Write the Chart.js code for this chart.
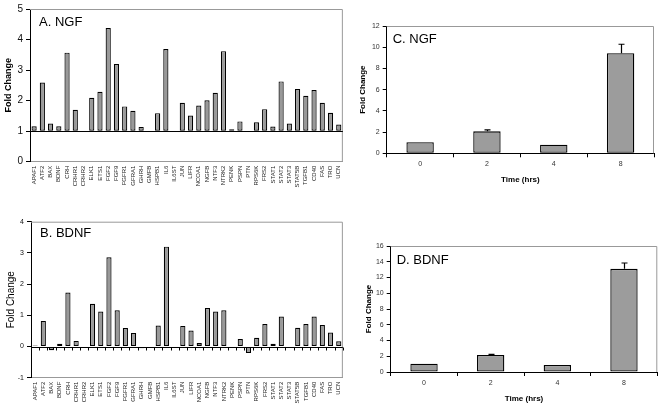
<!DOCTYPE html>
<html>
<head>
<meta charset="utf-8">
<script src="https://cdn.jsdelivr.net/npm/chart.js@4"></script>
<style>
  body { margin: 0; background: #fff; }
  #wrap { position: relative; width: 661px; height: 409px; overflow: hidden; }
  canvas { position: absolute; }
</style>
</head>
<body>
<div id="wrap">
  <canvas id="chartA" style="left:0;top:0" width="350" height="200"></canvas>
  <canvas id="chartB" style="left:0;top:205px" width="350" height="204"></canvas>
  <canvas id="chartC" style="left:355px;top:0" width="306" height="200"></canvas>
  <canvas id="chartD" style="left:355px;top:200px" width="306" height="209"></canvas>
</div>
<script>
  const genes = ['APAF1', 'ATF2', 'BAX', 'BDNF', 'CRH', 'CRHR1', 'CRHR2', 'ELK1', 'ETS1', 'FGF2',
    'FGF9', 'FGFR1', 'GFRA1', 'GHRH', 'GMFB', 'HSPB1', 'IL6', 'IL6ST', 'JUN', 'LIFR',
    'NCOA1', 'NGFB', 'NTF3', 'NTRK2', 'PENK', 'PSPN', 'PTN', 'RPS6K', 'FRS2', 'STAT1',
    'STAT2', 'STAT3', 'STAT5B', 'TGFB1', 'CD40', 'FAS', 'TRO', 'UCN'];

  // A. NGF - fold change, bars drawn from 1
  const ngfFold = [1.16, 2.59, 1.25, 1.16, 3.57, 1.70, 1.0, 2.09, 2.29, 4.38,
    3.20, 1.81, 1.67, 1.14, 1.0, 1.59, 3.69, 1.0, 1.93, 1.51,
    1.84, 2.01, 2.26, 3.62, 1.06, 1.32, 0.97, 1.29, 1.72, 1.15,
    2.63, 1.25, 2.38, 2.16, 2.35, 1.93, 1.60, 1.22];

  // B. BDNF - fold change, bars drawn from 0
  const bdnfFold = [0.03, 0.82, -0.12, 0.09, 1.73, 0.18, 0.02, 1.37, 1.12, 2.86,
    1.16, 0.59, 0.43, -0.06, 0.02, 0.67, 3.20, 0.02, 0.66, 0.51,
    0.11, 1.23, 1.12, 1.16, 0.02, 0.24, -0.21, 0.28, 0.72, 0.09,
    0.96, -0.05, 0.60, 0.72, 0.96, 0.69, 0.45, 0.17];

  // C / D - time course
  const hours = ['0', '2', '4', '8'];
  const ngfTime = [1.04, 2.07, 0.80, 9.43];
  const ngfTimeErr = [0, 0.13, 0, 0.85];
  const bdnfTime = [1.05, 2.16, 0.89, 13.1];
  const bdnfTimeErr = [0, 0.08, 0, 0.74];

  Chart.defaults.font.family = "'Liberation Sans', Arial, sans-serif";
  Chart.defaults.color = '#000';

  // frame, baseline, error bars and panel letter
  const panelDecor = {
    id: 'panelDecor',
    beforeDatasetsDraw(chart, args, opts) {
      const {ctx, chartArea: a, scales: {x, y}} = chart;
      ctx.save();
      ctx.lineWidth = 1;
      ctx.strokeStyle = '#999';
      ctx.beginPath();
      ctx.moveTo(a.left, a.top + 0.5);
      ctx.lineTo(a.right - 0.5, a.top + 0.5);
      ctx.lineTo(a.right - 0.5, a.bottom);
      ctx.stroke();

      if (opts.baseline !== undefined) {
        const yb = Math.round(y.getPixelForValue(opts.baseline)) + 0.5;
        ctx.strokeStyle = '#000';
        ctx.beginPath();
        ctx.moveTo(a.left, yb);
        ctx.lineTo(a.right, yb);
        if (opts.baseTicks) {
          const step = x.getPixelForValue(1) - x.getPixelForValue(0);
          for (let i = 0; i <= x.ticks.length; i++) {
            const xx = Math.round(x.getPixelForValue(i) - step / 2) + 0.5;
            ctx.moveTo(xx, yb);
            ctx.lineTo(xx, yb + 3);
          }
        }
        ctx.stroke();
      }
      ctx.restore();
    },
    afterDatasetsDraw(chart, args, opts) {
      const {ctx, chartArea: a, scales: {y}} = chart;
      ctx.save();
      if (opts.errors) {
        const meta = chart.getDatasetMeta(0);
        const vals = chart.data.datasets[0].data;
        ctx.strokeStyle = '#000';
        ctx.lineWidth = 1.2;
        meta.data.forEach((bar, i) => {
          const err = opts.errors[i];
          if (!err) return;
          const y0 = y.getPixelForValue(vals[i]);
          const y1 = y.getPixelForValue(vals[i] + err);
          const xx = Math.round(bar.x) + 0.5;
          ctx.beginPath();
          ctx.moveTo(xx, y0);
          ctx.lineTo(xx, y1);
          ctx.moveTo(xx - 3, y1);
          ctx.lineTo(xx + 3, y1);
          ctx.stroke();
        });
      }
      if (opts.title) {
        ctx.fillStyle = '#000';
        ctx.font = "13px 'Liberation Sans', Arial, sans-serif";
        ctx.textBaseline = 'alphabetic';
        ctx.fillText(opts.title, a.left + opts.titleDx, a.top + opts.titleDy);
      }
      ctx.restore();
    }
  };

  function geneChart(id, values, base, cfg) {
    return new Chart(document.getElementById(id), {
      type: 'bar',
      data: {
        labels: genes,
        datasets: [{
          data: values,
          base: base,
          backgroundColor: '#999999',
          borderColor: '#000',
          borderWidth: 1.2,
          borderSkipped: false,
          categoryPercentage: 1,
          barPercentage: 0.63
        }]
      },
      options: {
        responsive: false,
        animation: false,
        layout: { padding: { top: cfg.padTop, right: cfg.padRight, left: 0, bottom: 0 } },
        plugins: {
          legend: { display: false },
          tooltip: { enabled: false },
          panelDecor: { title: cfg.title, titleDx: 9, titleDy: cfg.titleDy, baseline: base, baseTicks: cfg.baseTicks }
        },
        scales: {
          x: {
            grid: { drawOnChartArea: false, drawTicks: false },
            border: { color: '#999' },
            ticks: {
              autoSkip: false, minRotation: 90, maxRotation: 90,
              padding: 4, font: { size: cfg.labelSize }, color: '#222'
            },
            afterFit: s => { s.height = cfg.xHeight; }
          },
          y: {
            min: cfg.yMin, max: cfg.yMax,
            grid: { drawOnChartArea: false, tickLength: 4, color: '#000' },
            border: { color: '#000' },
            ticks: { stepSize: 1, padding: 3, font: { size: cfg.tickSize }, color: '#111' },
            title: {
              display: true, text: 'Fold Change',
              font: { size: cfg.yTitleSize, weight: cfg.yTitleWeight },
              padding: { top: cfg.yTitlePad, bottom: 0 }
            },
            afterFit: s => { s.width = cfg.yWidth; }
          }
        }
      },
      plugins: [panelDecor]
    });
  }

  function timeChart(id, values, errors, cfg) {
    return new Chart(document.getElementById(id), {
      type: 'bar',
      data: {
        labels: hours,
        datasets: [{
          data: values,
          backgroundColor: '#9c9c9c',
          borderColor: '#000',
          borderWidth: 1.3,
          borderSkipped: false,
          categoryPercentage: 1,
          barPercentage: 0.41
        }]
      },
      options: {
        responsive: false,
        animation: false,
        layout: { padding: { top: cfg.padTop, right: cfg.padRight, left: 0, bottom: 0 } },
        plugins: {
          legend: { display: false },
          tooltip: { enabled: false },
          panelDecor: { title: cfg.title, titleDx: 6, titleDy: cfg.titleDy, errors: errors }
        },
        scales: {
          x: {
            grid: { drawOnChartArea: false, tickLength: 4, color: '#000' },
            border: { color: '#000' },
            ticks: { padding: 3, font: { size: 7 }, color: '#333' },
            title: {
              display: true, text: 'Time (hrs)',
              font: { size: 8, weight: 'bold' },
              padding: { top: 0, bottom: cfg.xTitlePad }
            },
            afterFit: s => { s.height = cfg.xHeight; }
          },
          y: {
            min: 0, max: cfg.yMax,
            grid: { drawOnChartArea: false, tickLength: 4, color: '#000' },
            border: { color: '#000' },
            ticks: { stepSize: 2, padding: 3, font: { size: 7 }, color: '#333' },
            title: {
              display: true, text: 'Fold Change',
              font: { size: 8, weight: 'bold' },
              padding: { top: cfg.yTitlePad, bottom: 0 }
            },
            afterFit: s => { s.width = cfg.yWidth; }
          }
        }
      },
      plugins: [panelDecor]
    });
  }

  geneChart('chartA', ngfFold, 1, {
    title: 'A. NGF', titleDy: 17, padTop: 5.7, padRight: 4,
    yMin: 0, yMax: 5, yWidth: 30, xHeight: 38.3,
    labelSize: 6, tickSize: 10, yTitleSize: 9, yTitleWeight: 'bold', yTitlePad: 3,
    baseTicks: false
  });

  geneChart('chartB', bdnfFold, 0, {
    title: 'B. BDNF', titleDy: 15, padTop: 16.7, padRight: 3.3,
    yMin: -1, yMax: 4, yWidth: 31, xHeight: 31.3,
    labelSize: 6, tickSize: 7, yTitleSize: 10, yTitleWeight: 'normal', yTitlePad: 5.5,
    baseTicks: true
  });

  timeChart('chartC', ngfTime, ngfTimeErr, {
    title: 'C. NGF', titleDy: 16.7, padTop: 26, padRight: 7,
    yMax: 12, yWidth: 31.7, xHeight: 46.7, xTitlePad: 15, yTitlePad: 3
  });

  timeChart('chartD', bdnfTime, bdnfTimeErr, {
    title: 'D. BDNF', titleDy: 18, padTop: 46, padRight: 3.7,
    yMax: 16, yWidth: 35.7, xHeight: 37, xTitlePad: 5, yTitlePad: 8.7
  });
</script>
</body>
</html>
